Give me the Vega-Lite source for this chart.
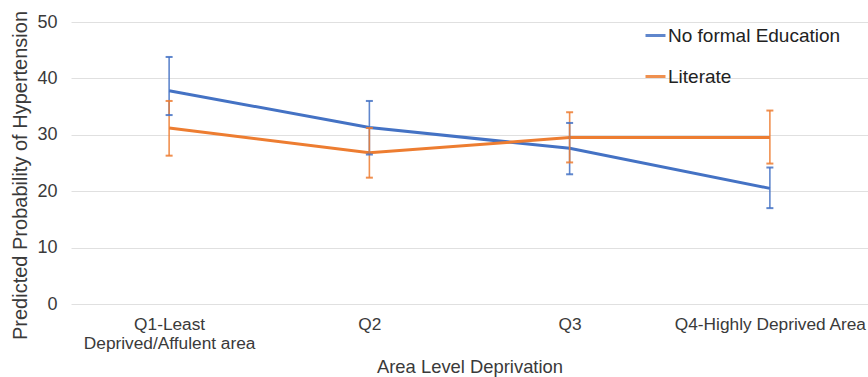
{
  "$schema": "https://vega.github.io/schema/vega-lite/v6.json",
  "width": 797,
  "height": 282,
  "autosize": "none",
  "padding": {"left": 71, "top": 22, "right": 0, "bottom": 73},
  "background": "white",
  "config": {
    "view": {"stroke": null},
    "font": "Liberation Sans",
    "axis": {"labelFont": "Liberation Sans", "titleFont": "Liberation Sans", "labelColor": "#3a3a3a", "titleColor": "#3a3a3a", "titleFontWeight": "normal"},
    "axisY": {
      "labelFontSize": 18,
      "labelPadding": 14,
      "labelOverlap": false,
      "titleFontSize": 20,
      "titlePadding": 6,
      "titleY": 153,
      "domain": false,
      "ticks": false,
      "gridColor": "#e0e0e0",
      "gridWidth": 1
    },
    "legend": {"labelFont": "Liberation Sans"}
  },
  "data": {
    "values": [
      {"area": "Q1-Least|Deprived/Affulent area", "group": "No formal Education", "value": 37.8, "lower": 33.5, "upper": 43.8},
      {"area": "Q2", "group": "No formal Education", "value": 31.3, "lower": 26.5, "upper": 36.0},
      {"area": "Q3", "group": "No formal Education", "value": 27.6, "lower": 23.0, "upper": 32.1},
      {"area": "Q4-Highly Deprived Area", "group": "No formal Education", "value": 20.5, "lower": 17.0, "upper": 24.2},
      {"area": "Q1-Least|Deprived/Affulent area", "group": "Literate", "value": 31.2, "lower": 26.3, "upper": 36.0},
      {"area": "Q2", "group": "Literate", "value": 26.8, "lower": 22.4, "upper": 31.2},
      {"area": "Q3", "group": "Literate", "value": 29.5, "lower": 25.1, "upper": 34.0},
      {"area": "Q4-Highly Deprived Area", "group": "Literate", "value": 29.5, "lower": 24.9, "upper": 34.3}
    ]
  },
  "encoding": {
    "x": {
      "field": "area",
      "type": "nominal",
      "sort": ["Q1-Least|Deprived/Affulent area", "Q2", "Q3", "Q4-Highly Deprived Area"],
      "scale": {"type": "point", "padding": 0.49},
      "axis": {
        "title": "Area Level Deprivation",
        "labelExpr": "split(datum.label, '|')",
        "labelAngle": 0,
        "labelFontSize": 17.3,
        "labelLineHeight": 19,
        "labelPadding": 11,
        "labelBaseline": "top",
        "labelLimit": 0,
        "labelOverlap": false,
        "titleFontSize": 18.4,
        "titlePadding": 6,
        "domain": false,
        "ticks": false,
        "grid": false
      }
    },
    "color": {
      "field": "group",
      "type": "nominal",
      "scale": {"domain": ["No formal Education", "Literate"], "range": ["#4472C4", "#ED7D31"]},
      "legend": {
        "title": null,
        "orient": "none",
        "legendX": 573,
        "legendY": 2,
        "symbolType": "stroke",
        "symbolSize": 400,
        "symbolStrokeWidth": 3,
        "labelFontSize": 19,
        "labelLimit": 0,
        "labelColor": "#222",
        "rowPadding": 19,
        "labelOffset": 1
      }
    }
  },
  "layer": [
    {
      "mark": {"type": "line", "strokeWidth": 3},
      "encoding": {
        "y": {
          "field": "value",
          "type": "quantitative",
          "scale": {"domain": [0, 50]},
          "axis": {"title": "Predicted Probability of Hypertension", "values": [0, 10, 20, 30, 40, 50]}
        }
      }
    },
    {
      "mark": {"type": "rule", "strokeWidth": 1.6, "opacity": 0.85},
      "encoding": {
        "y": {"field": "lower", "type": "quantitative", "axis": {"title": "Predicted Probability of Hypertension", "values": [0, 10, 20, 30, 40, 50]}},
        "y2": {"field": "upper"}
      }
    },
    {
      "mark": {"type": "tick", "size": 7, "thickness": 2, "opacity": 0.85},
      "encoding": {"y": {"field": "lower", "type": "quantitative", "axis": {"title": "Predicted Probability of Hypertension", "values": [0, 10, 20, 30, 40, 50]}}}
    },
    {
      "mark": {"type": "tick", "size": 7, "thickness": 2, "opacity": 0.85},
      "encoding": {"y": {"field": "upper", "type": "quantitative", "axis": {"title": "Predicted Probability of Hypertension", "values": [0, 10, 20, 30, 40, 50]}}}
    }
  ]
}
